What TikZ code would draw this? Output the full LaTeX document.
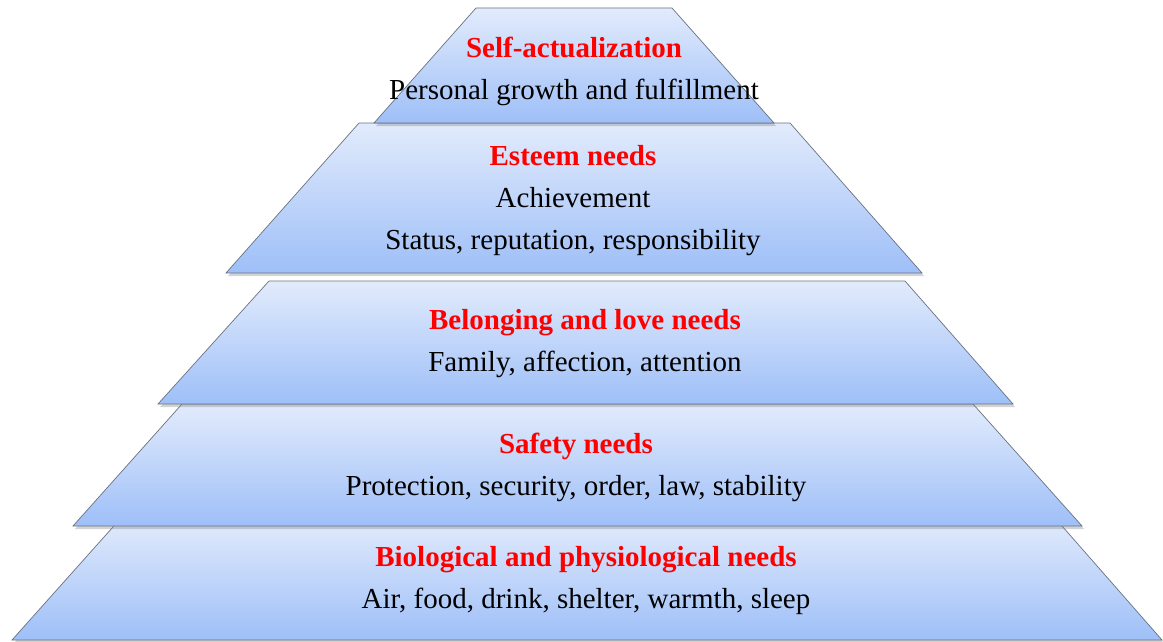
\documentclass[tikz,border=0pt]{standalone}
\usepackage{fontspec}
\setmainfont{Liberation Serif}
\usetikzlibrary{shadows}
\definecolor{layertop}{RGB}{226,235,252}
\definecolor{layerbottom}{RGB}{158,191,248}
\definecolor{layerline}{RGB}{105,114,128}
\definecolor{needred}{RGB}{255,0,0}

\begin{document}
\begin{tikzpicture}[
  x=1pt, y=-1pt,
  layer/.style={
    draw=layerline,
    line width=.7pt,
    top color=layertop,
    bottom color=layerbottom,
    drop shadow={shadow xshift=2pt, shadow yshift=-3pt, opacity=.35}
  },
  needtext/.style={
    align=center,
    inner sep=0pt,
    font=\fontsize{29}{42}\selectfont
  }
]
  \useasboundingbox (0,0) rectangle (1163,642);
  % layers, from the base up
  \path[layer] (121,518) -- (1055,518) -- (1162,640) -- (12,640) -- cycle;
  \path[layer] (182,404) -- (973,404) -- (1082,526) -- (73,526) -- cycle;
  \path[layer] (269,281) -- (905,281) -- (1013,404) -- (158,404) -- cycle;
  \path[layer] (359,123) -- (790,123) -- (922,273) -- (226,273) -- cycle;
  \path[layer] (476,8) -- (672,8) -- (774,123) -- (374,123) -- cycle;
  % labels
  \node[needtext] (biological) at (586,581) {\textcolor{needred}{\bfseries Biological and physiological needs}\\Air, food, drink, shelter, warmth, sleep};
  \node[needtext] (safety) at (576,467) {\textcolor{needred}{\bfseries Safety needs}\\Protection, security, order, law, stability};
  \node[needtext] (belonging) at (585,344) {\textcolor{needred}{\bfseries Belonging and love needs}\\Family, affection, attention};
  \node[needtext] (esteem) at (573,201) {\textcolor{needred}{\bfseries Esteem needs}\\Achievement\\Status, reputation, responsibility};
  \node[needtext] (self) at (574,71) {\textcolor{needred}{\bfseries Self-actualization}\\Personal growth and fulfillment};
\end{tikzpicture}
\end{document}
